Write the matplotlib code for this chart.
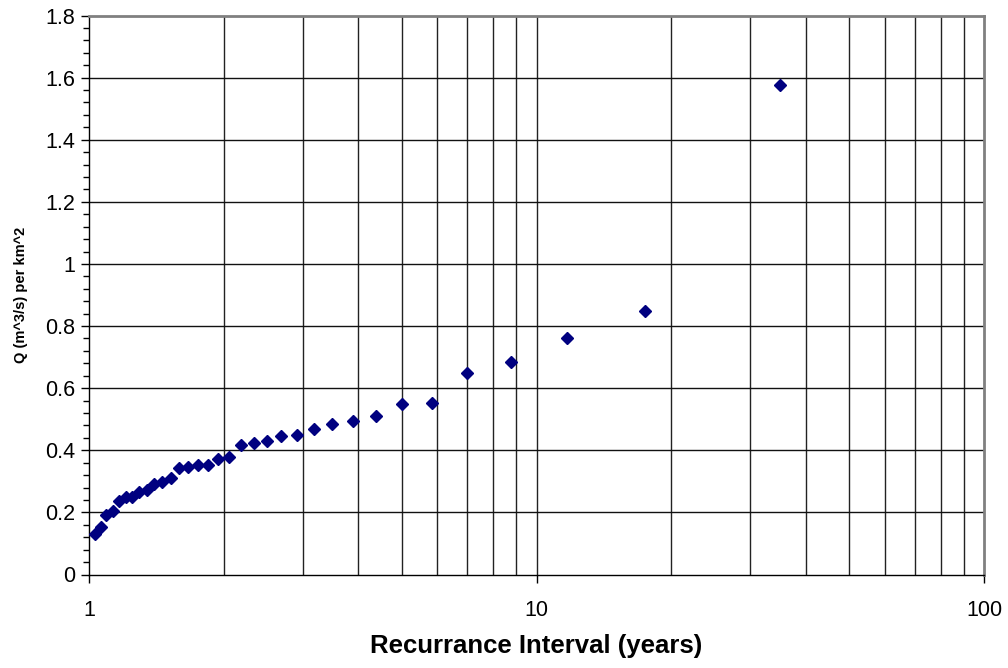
import numpy as np
import matplotlib
matplotlib.use("Agg")
import matplotlib.pyplot as plt
from matplotlib.ticker import FixedLocator, NullFormatter, MultipleLocator

# recurrence interval (years) and unit discharge
interval = [1.029, 1.061, 1.094, 1.129, 1.167, 1.207, 1.25, 1.296, 1.346, 1.40,
            1.458, 1.522, 1.591, 1.667, 1.75, 1.842, 1.944, 2.059, 2.188, 2.333,
            2.50, 2.692, 2.917, 3.182, 3.50, 3.889, 4.375, 5.0, 5.833, 7.0,
            8.75, 11.67, 17.5, 35.0]
q_per_km2 = [0.132, 0.154, 0.192, 0.204, 0.237, 0.248, 0.251, 0.267, 0.273, 0.291,
             0.298, 0.310, 0.342, 0.346, 0.351, 0.352, 0.371, 0.377, 0.416, 0.425,
             0.431, 0.446, 0.450, 0.469, 0.486, 0.495, 0.510, 0.549, 0.552, 0.650,
             0.684, 0.760, 0.848, 1.576]

x_ticks = [1, 10, 100]
x_tick_labels = ["1", "10", "100"]
y_tick_labels = ["0", "0.2", "0.4", "0.6", "0.8", "1", "1.2", "1.4", "1.6", "1.8"]

plt.rcParams['font.family'] = ['Liberation Sans', 'DejaVu Sans']

fig = plt.figure(figsize=(10.08, 6.68), dpi=100)
ax = fig.add_axes([89 / 1008, 1 - 574.5 / 668, (984 - 89) / 1008, (574.5 - 15.5) / 668])

# grid: vertical lines at every log step, horizontal at major y
grid_x = [v * d for d in (1, 10) for v in range(2, 10)] + [10]
for gx in grid_x:
    ax.axvline(gx, color='#222222', lw=1.0, zorder=1)
for gy in np.arange(0.2, 1.8, 0.2):
    ax.axhline(gy, color='#111111', lw=1.0, zorder=1)

ax.plot(interval, q_per_km2, linestyle='none', marker='D', markersize=6.2,
        color='#000080', zorder=3, clip_on=False)

ax.set_xscale('log')
ax.set_xlim(1, 100)
ax.set_ylim(0, 1.8)

ax.xaxis.set_major_locator(FixedLocator(x_ticks))
ax.set_xticklabels(x_tick_labels)
ax.xaxis.set_minor_locator(FixedLocator([]))
ax.xaxis.set_minor_formatter(NullFormatter())
ax.set_yticks(np.arange(0, 1.81, 0.2))
ax.set_yticklabels(y_tick_labels)
ax.yaxis.set_minor_locator(MultipleLocator(0.04))

ax.tick_params(axis='both', which='major', direction='out', length=6, width=1,
               labelsize=15.5, color='black')
ax.tick_params(axis='y', which='minor', direction='out', length=4, width=1, color='black')
ax.tick_params(axis='x', which='major', pad=12)
ax.tick_params(axis='y', which='major', pad=4)

for s in ('top', 'right'):
    ax.spines[s].set_color('#808080')
    ax.spines[s].set_linewidth(2)
for s in ('left', 'bottom'):
    ax.spines[s].set_color('black')
    ax.spines[s].set_linewidth(1)

ax.set_xlabel('Recurrance Interval (years)', fontsize=18.5, fontweight='bold', labelpad=10)
ax.set_ylabel('Q (m^3/s) per km^2', fontsize=10.5, fontweight='bold', labelpad=12)

fig.savefig('out.png', dpi=100)
